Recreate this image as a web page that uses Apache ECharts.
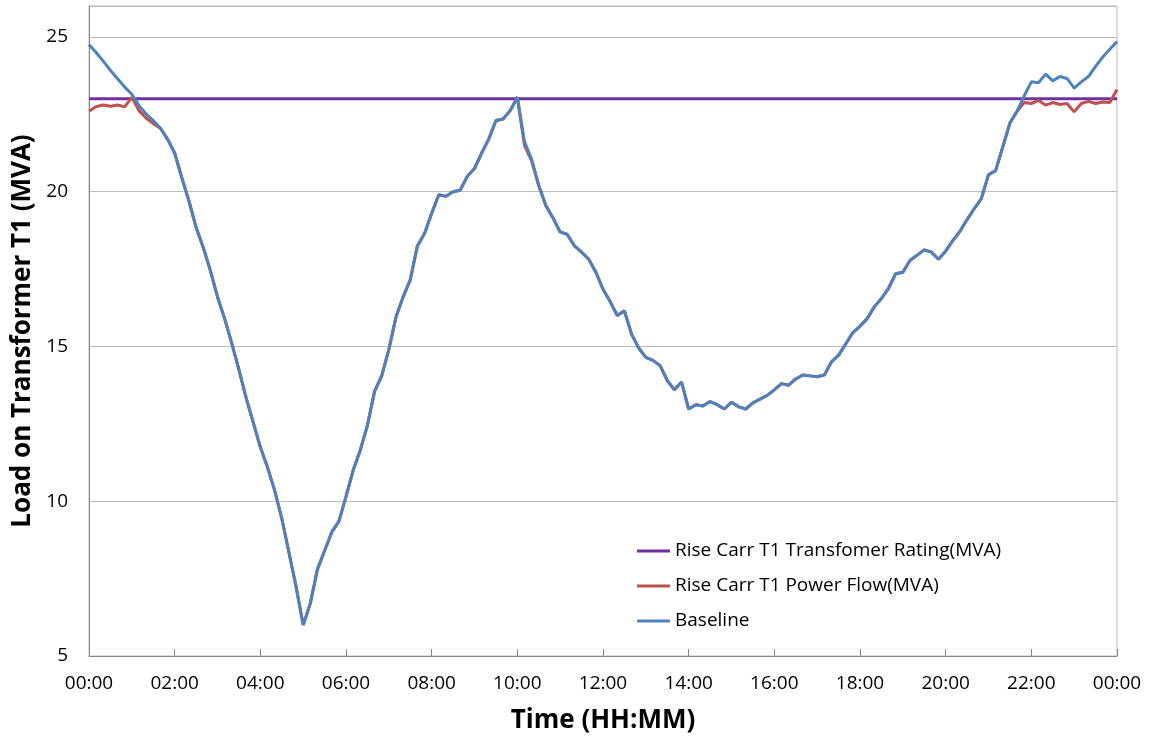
<!DOCTYPE html>
<html>
<head>
<meta charset="utf-8">
<title>Load on Transformer T1</title>
<script src="https://cdn.jsdelivr.net/npm/echarts@6/dist/echarts.min.js"></script>
<style>
  html, body { margin: 0; padding: 0; background: #ffffff; }
  #chart { width: 1151px; height: 741px; }
</style>
</head>
<body>
<div id="chart"></div>
<script>
// Samples are taken every 10 minutes from 00:00 to 24:00 (145 points).
const stepMinutes = 10;

// Transformer rating (MVA)
const ratingMVA = 23;

// Baseline load (MVA), one value per 10-minute step
const baseline = [
  24.75, 24.50, 24.22, 23.92, 23.65, 23.38, 23.15, 22.78, 22.52, 22.30, 22.05, 21.70,   // 00:00-01:50
  21.25, 20.45, 19.70, 18.85, 18.20, 17.45, 16.60, 15.90, 15.10, 14.25, 13.35, 12.55,   // 02:00-03:50
  11.75, 11.10, 10.35, 9.45, 8.35, 7.25, 6.00, 6.70, 7.80, 8.40, 9.00, 9.35,            // 04:00-05:50
  10.15, 11.00, 11.65, 12.45, 13.55, 14.05, 14.90, 15.95, 16.60, 17.15, 18.25, 18.65,   // 06:00-07:50
  19.30, 19.90, 19.85, 20.00, 20.05, 20.50, 20.75, 21.25, 21.70, 22.30, 22.35, 22.62,   // 08:00-09:50
  23.05, 21.62, 21.05, 20.20, 19.55, 19.15, 18.70, 18.62, 18.25, 18.05, 17.82, 17.40,   // 10:00-11:50
  16.85, 16.45, 16.00, 16.15, 15.40, 14.95, 14.65, 14.55, 14.38, 13.90, 13.60, 13.85,   // 12:00-13:50
  12.98, 13.12, 13.08, 13.22, 13.12, 12.98, 13.20, 13.05, 12.98, 13.18, 13.30, 13.42,   // 14:00-15:50
  13.60, 13.80, 13.75, 13.95, 14.08, 14.05, 14.02, 14.08, 14.50, 14.72, 15.08, 15.45,   // 16:00-17:50
  15.65, 15.90, 16.28, 16.55, 16.88, 17.35, 17.40, 17.78, 17.95, 18.12, 18.05, 17.82,   // 18:00-19:50
  18.08, 18.42, 18.72, 19.10, 19.45, 19.78, 20.55, 20.68, 21.45, 22.22, 22.60, 23.10,   // 20:00-21:50
  23.55, 23.52, 23.80, 23.58, 23.72, 23.66, 23.35, 23.55, 23.72, 24.05, 24.35, 24.60,   // 22:00-23:50
  24.85                                                                                 // 24:00
];

// Power flow with the Rise Carr scheme (MVA), one value per 10-minute step
const powerFlow = [
  22.60, 22.75, 22.80, 22.76, 22.80, 22.74, 23.05, 22.62, 22.38, 22.20, 22.05, 21.70,   // 00:00-01:50
  21.25, 20.45, 19.70, 18.85, 18.20, 17.45, 16.60, 15.90, 15.10, 14.25, 13.35, 12.55,   // 02:00-03:50
  11.75, 11.10, 10.35, 9.45, 8.35, 7.25, 6.00, 6.70, 7.80, 8.40, 9.00, 9.35,            // 04:00-05:50
  10.15, 11.00, 11.65, 12.45, 13.55, 14.05, 14.90, 15.95, 16.60, 17.15, 18.25, 18.65,   // 06:00-07:50
  19.30, 19.90, 19.85, 20.00, 20.05, 20.50, 20.75, 21.25, 21.70, 22.30, 22.35, 22.62,   // 08:00-09:50
  23.05, 21.50, 21.00, 20.20, 19.55, 19.15, 18.70, 18.62, 18.25, 18.05, 17.82, 17.40,   // 10:00-11:50
  16.85, 16.45, 16.00, 16.15, 15.40, 14.95, 14.65, 14.55, 14.38, 13.90, 13.60, 13.85,   // 12:00-13:50
  12.98, 13.12, 13.08, 13.22, 13.12, 12.98, 13.20, 13.05, 12.98, 13.18, 13.30, 13.42,   // 14:00-15:50
  13.60, 13.80, 13.75, 13.95, 14.08, 14.05, 14.02, 14.08, 14.50, 14.72, 15.08, 15.45,   // 16:00-17:50
  15.65, 15.90, 16.28, 16.55, 16.88, 17.35, 17.40, 17.78, 17.95, 18.12, 18.05, 17.82,   // 18:00-19:50
  18.08, 18.42, 18.72, 19.10, 19.45, 19.78, 20.55, 20.68, 21.45, 22.22, 22.60, 22.88,   // 20:00-21:50
  22.85, 22.95, 22.80, 22.88, 22.82, 22.85, 22.58, 22.85, 22.92, 22.85, 22.90, 22.88,   // 22:00-23:50
  23.30                                                                                 // 24:00
];

// Axis ticks (hours) and the series names shown in the legend
const hourTicks = [0, 2, 4, 6, 8, 10, 12, 14, 16, 18, 20, 22, 24];
const seriesNames = [
  'Rise Carr T1 Transfomer Rating(MVA)',
  'Rise Carr T1 Power Flow(MVA)',
  'Baseline'
];

const hoursAt = i => i * stepMinutes / 60;
const toPairs = values => values.map((v, i) => [hoursAt(i), v]);
const ratingLine = [[hourTicks[0], ratingMVA], [hourTicks[hourTicks.length - 1], ratingMVA]];

const hhmm = h => String(h % 24).padStart(2, '0') + ':00';

const FONT = '"Open Sans", "Liberation Sans", sans-serif';

const chart = echarts.init(document.getElementById('chart'), null, { renderer: 'canvas' });

chart.setOption({
  animation: false,
  backgroundColor: '#ffffff',
  textStyle: { fontFamily: FONT, color: '#000000' },
  grid: {
    left: 89, right: 34, top: 6, bottom: 85,
    show: true, borderColor: '#bdbdbd', borderWidth: 1
  },
  legend: {
    orient: 'vertical',
    left: 632,
    top: 535,
    icon: 'rect',
    itemWidth: 33,
    itemHeight: 3,
    itemGap: 13,
    textStyle: { fontFamily: FONT, fontSize: 19, color: '#000000', lineHeight: 22 },
    data: seriesNames
  },
  xAxis: {
    type: 'value',
    min: hourTicks[0],
    max: hourTicks[hourTicks.length - 1],
    interval: 2,
    name: 'Time (HH:MM)',
    nameLocation: 'middle',
    nameGap: 52,
    nameTextStyle: { fontFamily: FONT, fontSize: 26, fontWeight: 'bold', color: '#000000' },
    axisLine: { lineStyle: { color: '#868686', width: 1 } },
    axisTick: { show: true, inside: true, length: 7, lineStyle: { color: '#868686' } },
    axisLabel: {
      margin: 18,
      fontFamily: FONT, fontSize: 19, color: '#000000',
      formatter: v => hhmm(v),
      showMaxLabel: true
    },
    splitLine: { show: false }
  },
  yAxis: {
    type: 'value',
    min: 5,
    max: 26,
    interval: 5,
    name: 'Load on Transformer T1 (MVA)',
    nameLocation: 'middle',
    nameGap: 52,
    nameTextStyle: { fontFamily: FONT, fontSize: 26, fontWeight: 'bold', color: '#000000' },
    axisLine: { show: true, lineStyle: { color: '#868686', width: 1 } },
    axisTick: { show: false },
    axisLabel: {
      margin: 21,
      fontFamily: FONT, fontSize: 19, color: '#000000',
      showMaxLabel: false
    },
    splitLine: { show: true, lineStyle: { color: '#bdbdbd', width: 1 } }
  },
  series: [
    {
      name: seriesNames[0],
      type: 'line',
      data: ratingLine,
      showSymbol: false,
      lineStyle: { color: '#7030A0', width: 3 },
      itemStyle: { color: '#7030A0' },
      z: 2
    },
    {
      name: seriesNames[1],
      type: 'line',
      data: toPairs(powerFlow),
      showSymbol: false,
      lineStyle: { color: '#C0504D', width: 3 },
      itemStyle: { color: '#C0504D' },
      z: 3
    },
    {
      name: seriesNames[2],
      type: 'line',
      data: toPairs(baseline),
      showSymbol: false,
      lineStyle: { color: '#4F81BD', width: 3 },
      itemStyle: { color: '#4F81BD' },
      z: 4
    }
  ]
});
</script>
</body>
</html>
